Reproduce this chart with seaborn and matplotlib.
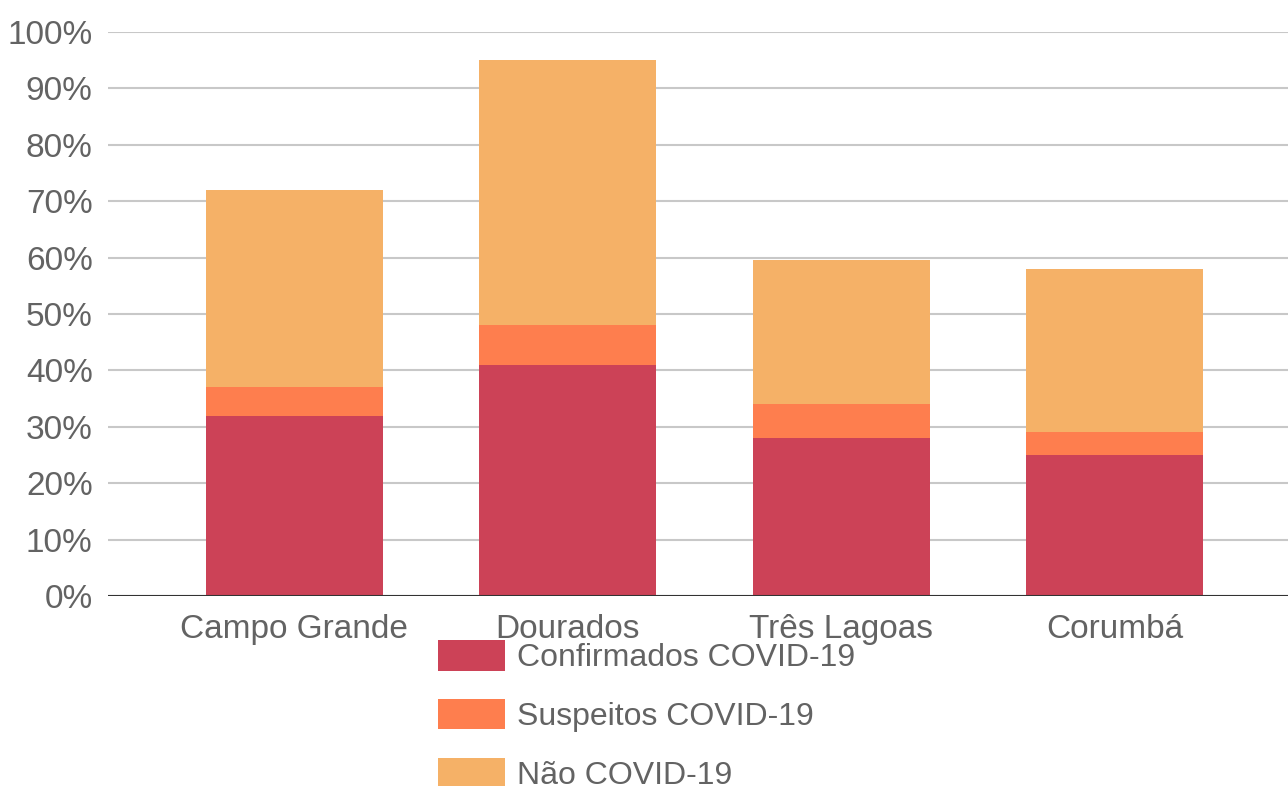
import numpy as np
import pandas as pd
import matplotlib as mpl
mpl.use('Agg')
import matplotlib.pyplot as plt
import seaborn as sns

cidades = ['Campo Grande', 'Dourados', 'Três Lagoas', 'Corumbá']
confirmados = [32, 41, 28, 25]
suspeitos = [5, 7, 6, 4]
nao_covid = [35, 47, 25.6, 29]

series = ['Confirmados COVID-19', 'Suspeitos COVID-19', 'Não COVID-19']
cores = ['#CC4257', '#FE7E4E', '#F5B167']

sns.set_style('white')
plt.rcParams['font.family'] = ['Liberation Sans', 'DejaVu Sans']

df = pd.DataFrame({'cidade': cidades,
                   'conf': confirmados,
                   'susp': suspeitos,
                   'nao': nao_covid})
df['nivel1'] = df['conf']
df['nivel2'] = df['conf'] + df['susp']
df['nivel3'] = df['nivel2'] + df['nao']

fig = plt.figure(figsize=(12.88, 7.86), dpi=100)
ax = fig.add_axes([108/1288, 1 - 596/786, 1 - 108/1288, (596 - 32)/786])

# desenha do topo para a base, cada camada cobre a anterior
for col, cor in zip(['nivel3', 'nivel2', 'nivel1'], cores[::-1]):
    sns.barplot(data=df, x='cidade', y=col, color=cor, width=0.647,
                saturation=1, ax=ax, linewidth=0)

ax.set_xlim(-0.68, 3.633)
ax.set_ylim(0, 100)
ax.set_yticks(np.arange(0, 101, 10))
ax.set_yticklabels([f'{v}%' for v in range(0, 101, 10)])
ax.set_xlabel('')
ax.set_ylabel('')
ax.set_axisbelow(True)
ax.yaxis.grid(True, color='#c8c8c8', linewidth=1.5)
ax.xaxis.grid(False)
for s in ax.spines.values():
    s.set_visible(False)
ax.axhline(0, color='#333333', linewidth=1.5, zorder=5)
ax.tick_params(axis='y', length=0, pad=11, labelsize=24, labelcolor='#636363')
ax.tick_params(axis='x', length=0, pad=13, labelsize=24, labelcolor='#636363')

handles = [mpl.patches.Patch(facecolor=c, edgecolor='none') for c in cores]
fig.legend(handles, series, loc='upper left',
           bbox_to_anchor=(438/1288, 1 - 640/786),
           frameon=False, fontsize=23, borderpad=0, borderaxespad=0,
           handlelength=2.1, handleheight=1.1, labelspacing=0.8,
           handletextpad=0.38, labelcolor='#636363')

fig.savefig('out.png', dpi=100)
